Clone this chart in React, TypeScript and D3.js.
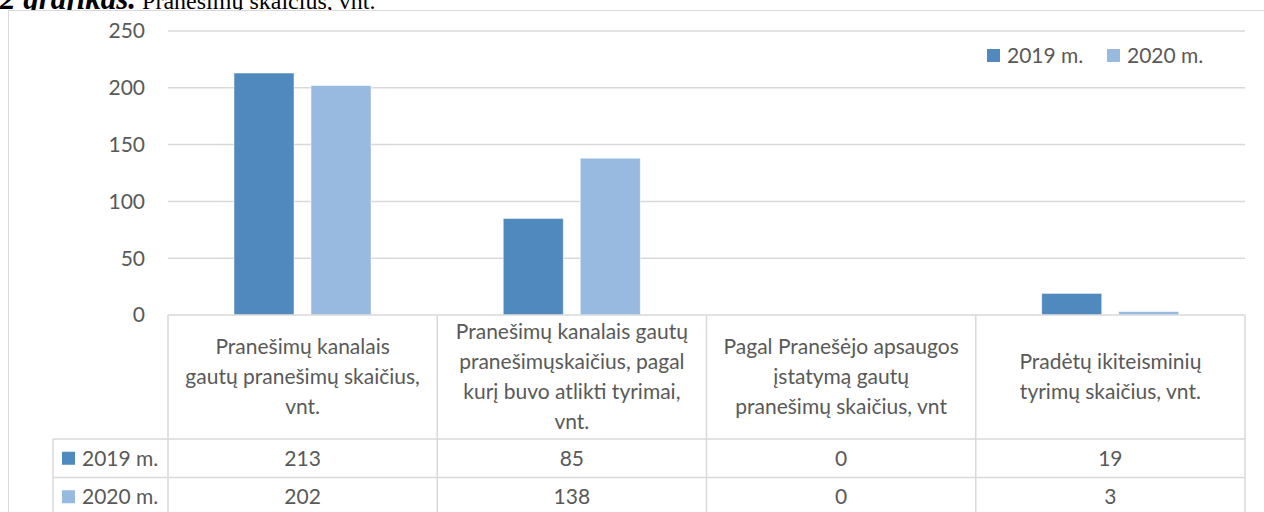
import React from 'react';
import * as d3 from 'd3';

const categories = [
  ['Pranešimų kanalais', 'gautų pranešimų skaičius,', 'vnt.'],
  ['Pranešimų kanalais gautų', 'pranešimųskaičius, pagal', 'kurį buvo atlikti tyrimai,', 'vnt.'],
  ['Pagal Pranešėjo apsaugos', 'įstatymą gautų', 'pranešimų skaičius, vnt'],
  ['Pradėtų ikiteisminių', 'tyrimų skaičius, vnt.'],
];
const series = ['2019 m.', '2020 m.'];
const values2019 = [213, 85, 0, 19];
const values2020 = [202, 138, 0, 3];
const yTicks = [0, 50, 100, 150, 200, 250];
const colors = ['#4F89BD', '#98B9E0'];

const W = 1264;
const H = 512;
const FONT = 'Lato, "Open Sans", sans-serif';
const FS = 21;
const TEXT = '#595959';
const GRID = '#D9D9D9';

const App = () => {
  const keys = categories.map((_, i) => String(i));
  const x = d3.scaleBand().domain(keys).range([168, 1245]);
  const x1 = d3.scaleBand().domain(series).range([66, 203]).paddingInner(0.221);
  const y = d3.scaleLinear().domain([0, 250]).range([315, 31]);
  const data = [values2019, values2020];

  const headTop = 315;
  const headBottom = 439;
  const rowH = 38.5;
  const lineH = 30;

  return (
    <svg width={W} height={H} style={{ position: 'absolute', left: 0, top: 0, background: '#fff' }}>
      <text x={0} y={9} fontFamily='"Liberation Serif", serif' fill="#000">
        <tspan fontWeight="bold" fontStyle="italic" style={{ fontSize: '31px' }}>2 grafikas.</tspan>
        <tspan dx={6} style={{ fontSize: '24px' }}>Pranešimų skaičius, vnt.</tspan>
      </text>
      <rect x={8.5} y={10.5} width={W} height={H} fill="#fff" stroke={GRID} />

      {yTicks.map(t => (
        <g key={t}>
          {t > 0 && <line x1={168} x2={1245} y1={y(t)} y2={y(t)} stroke={GRID} strokeWidth={1.5} />}
          <text x={145} y={y(t)} dy="0.35em" textAnchor="end" fontFamily={FONT} fontSize={FS} fill={TEXT}>{t}</text>
        </g>
      ))}

      {keys.map((k, i) => (
        <g key={k} transform={`translate(${x(k)},0)`}>
          {series.map((s, j) => (
            <rect key={s} x={x1(s)} width={x1.bandwidth()} y={y(data[j][i])} height={y(0) - y(data[j][i])}
              fill={colors[j]} stroke="#fff" strokeOpacity={0.6} strokeWidth={0.8} />
          ))}
        </g>
      ))}

      {/* data table */}
      <line x1={168} x2={1245} y1={headTop} y2={headTop} stroke={GRID} strokeWidth={1.5} />
      {[0, 1, 2].map(r => (
        <line key={r} x1={53} x2={1245} y1={headBottom + r * rowH} y2={headBottom + r * rowH} stroke={GRID} strokeWidth={1.5} />
      ))}
      <line x1={53} x2={53} y1={headBottom} y2={H} stroke={GRID} strokeWidth={1.5} />
      {[...keys.map(k => x(k)), 1245].map((vx, i) => (
        <line key={i} x1={vx} x2={vx} y1={headTop} y2={H} stroke={GRID} strokeWidth={1.5} />
      ))}

      {keys.map((k, i) => {
        const cx = x(k) + x.bandwidth() / 2;
        const lines = categories[i];
        const start = (headTop + headBottom) / 2 - ((lines.length - 1) * lineH) / 2;
        return (
          <g key={k}>
            {lines.map((l, li) => (
              <text key={li} x={cx} y={start + li * lineH} dy="0.35em" textAnchor="middle" fontFamily={FONT} fontSize={FS} fill={TEXT}>{l}</text>
            ))}
            {series.map((s, j) => (
              <text key={s} x={cx} y={headBottom + rowH * (j + 0.5)} dy="0.35em" textAnchor="middle" fontFamily={FONT} fontSize={FS} fill={TEXT}>{data[j][i]}</text>
            ))}
          </g>
        );
      })}

      {series.map((s, j) => (
        <g key={s}>
          <rect x={62} y={headBottom + rowH * (j + 0.5) - 6.5} width={13} height={13} fill={colors[j]} />
          <text x={82} y={headBottom + rowH * (j + 0.5)} dy="0.35em" fontFamily={FONT} fontSize={FS} fill={TEXT}>{s}</text>
        </g>
      ))}

      {/* legend */}
      {series.map((s, j) => (
        <g key={s} transform={`translate(${987 + j * 120},49)`}>
          <rect width={13} height={13} fill={colors[j]} />
          <text x={20} y={6.5} dy="0.35em" fontFamily={FONT} fontSize={FS} fill={TEXT}>{s}</text>
        </g>
      ))}
    </svg>
  );
};

export default App;
